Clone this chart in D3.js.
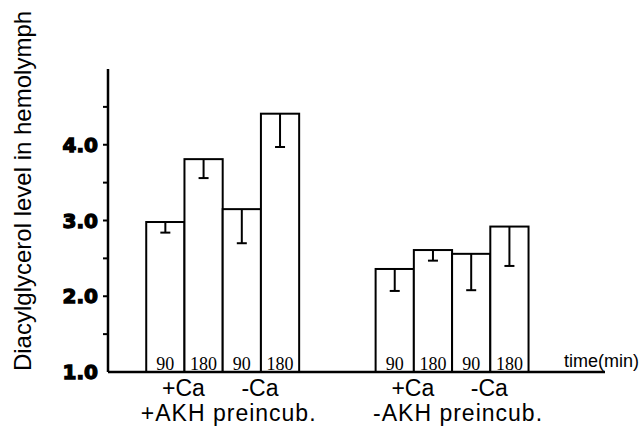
<!DOCTYPE html>
<html>
<head>
<meta charset='utf-8'>
<script src='https://cdn.jsdelivr.net/npm/d3@7'></script>
<style>
  body { margin: 0; background: #fff; }
</style>
</head>
<body>
<script type='text/javascript'>
'use strict';

// data (DG level, mean and lower error)
var groups = ['+AKH preincub.', '-AKH preincub.'];
var conditions = ['+Ca', '-Ca'];
var times = ['90', '180'];
var means = [2.98, 3.81, 3.15, 4.41, 2.36, 2.61, 2.56, 2.92];
var errors = [0.14, 0.25, 0.45, 0.44, 0.29, 0.14, 0.48, 0.52];
var majorTicks = [1.0, 2.0, 3.0, 4.0];
var minorTicks = [1.5, 2.5, 3.5, 4.5];

var WIDTH = 641,
    HEIGHT = 426;

var svg = d3.select('body')
  .append('svg')
  .attr('width', WIDTH)
  .attr('height', HEIGHT);

// build bar records: slot 0 empty, group 1 in slots 1-4, group 2 in slots 7-10
var bars = [];
groups.forEach(function (g, gi) {
  conditions.forEach(function (c, ci) {
    times.forEach(function (t, ti) {
      var i = gi * 4 + ci * 2 + ti;
      bars.push({ group: gi, cond: ci, time: t, slot: 1 + gi * 6 + ci * 2 + ti,
                  mean: means[i], err: errors[i] });
    });
  });
});

var x = d3.scaleBand()
  .domain(d3.range(13))
  .range([108, 605])
  .padding(0);

var y = d3.scaleLinear()
  .domain([1, 5])
  .range([372, 69]);

// y axis line + ticks
svg.append('line')
  .attr('x1', 108).attr('x2', 108)
  .attr('y1', y(5)).attr('y2', y(1))
  .attr('stroke', '#000')
  .attr('stroke-width', 2.5);

svg.selectAll('.tick')
  .data(majorTicks.concat(minorTicks).filter(function (d) { return d > 1; }))
  .enter()
  .append('line')
  .attr('x1', 103).attr('x2', 108)
  .attr('y1', function (d) { return y(d); })
  .attr('y2', function (d) { return y(d); })
  .attr('stroke', '#000')
  .attr('stroke-width', 2);

svg.selectAll('.ticklabel')
  .data(majorTicks)
  .enter()
  .append('text')
  .attr('x', 98)
  .attr('y', function (d) { return y(d); })
  .attr('dy', '0.36em')
  .attr('text-anchor', 'end')
  .style('font-family', 'DejaVu Sans')
  .style('font-weight', 'bold')
  .style('font-size', '20px')
  .style('stroke', '#000')
  .style('stroke-width', 1.3)
  .text(function (d) { return d.toFixed(1); });

// y label
svg.append('text')
  .attr('transform', 'translate(31,191) rotate(-90)')
  .attr('text-anchor', 'middle')
  .style('font-family', 'Liberation Sans, Arial')
  .style('font-size', '24px')
  .text('Diacylglycerol level in hemolymph');

// bars
svg.selectAll('.bar')
  .data(bars)
  .enter()
  .append('rect')
  .attr('x', function (d) { return x(d.slot); })
  .attr('y', function (d) { return y(d.mean); })
  .attr('width', x.bandwidth())
  .attr('height', function (d) { return y(1) - y(d.mean); })
  .attr('fill', '#fff')
  .attr('stroke', '#000')
  .attr('stroke-width', 2);

// error bars (downward, cap at the bottom)
svg.selectAll('.err')
  .data(bars)
  .enter()
  .append('line')
  .attr('x1', function (d) { return x(d.slot) + x.bandwidth() / 2; })
  .attr('x2', function (d) { return x(d.slot) + x.bandwidth() / 2; })
  .attr('y1', function (d) { return y(d.mean); })
  .attr('y2', function (d) { return y(d.mean - d.err); })
  .attr('stroke', '#000')
  .attr('stroke-width', 2);

svg.selectAll('.cap')
  .data(bars)
  .enter()
  .append('line')
  .attr('x1', function (d) { return x(d.slot) + x.bandwidth() / 2 - 5; })
  .attr('x2', function (d) { return x(d.slot) + x.bandwidth() / 2 + 5; })
  .attr('y1', function (d) { return y(d.mean - d.err); })
  .attr('y2', function (d) { return y(d.mean - d.err); })
  .attr('stroke', '#000')
  .attr('stroke-width', 2);

// time labels inside bars
svg.selectAll('.time')
  .data(bars)
  .enter()
  .append('text')
  .attr('x', function (d) { return x(d.slot) + x.bandwidth() / 2; })
  .attr('y', y(1) - 2)
  .attr('text-anchor', 'middle')
  .style('font-family', 'Liberation Serif, Times New Roman')
  .style('font-size', '18px')
  .text(function (d) { return d.time; });

// x axis baseline
svg.append('line')
  .attr('x1', 108).attr('x2', 605)
  .attr('y1', y(1)).attr('y2', y(1))
  .attr('stroke', '#000')
  .attr('stroke-width', 2.5);

svg.append('text')
  .attr('x', 564)
  .attr('y', 367)
  .style('font-family', 'Liberation Sans, Arial')
  .style('font-size', '18px')
  .text('time(min)');

// condition labels (+Ca / -Ca) under each pair
var condLabels = [];
groups.forEach(function (g, gi) {
  conditions.forEach(function (c, ci) {
    condLabels.push({ text: c, slot: 1 + gi * 6 + ci * 2 });
  });
});

svg.selectAll('.cond')
  .data(condLabels)
  .enter()
  .append('text')
  .attr('x', function (d) { return x(d.slot + 1) - 1; })
  .attr('y', 396)
  .attr('text-anchor', 'middle')
  .style('font-family', 'Liberation Sans, Arial')
  .style('font-size', '23px')
  .text(function (d) { return d.text; });

// group labels
svg.selectAll('.group')
  .data(groups)
  .enter()
  .append('text')
  .attr('x', function (d, i) { return x(3 + i * 6) + 6; })
  .attr('y', 421)
  .attr('text-anchor', 'middle')
  .style('font-family', 'Liberation Sans, Arial')
  .style('font-size', '23px')
  .style('letter-spacing', '1px')
  .text(function (d) { return d; });
</script>
</body>
</html>
